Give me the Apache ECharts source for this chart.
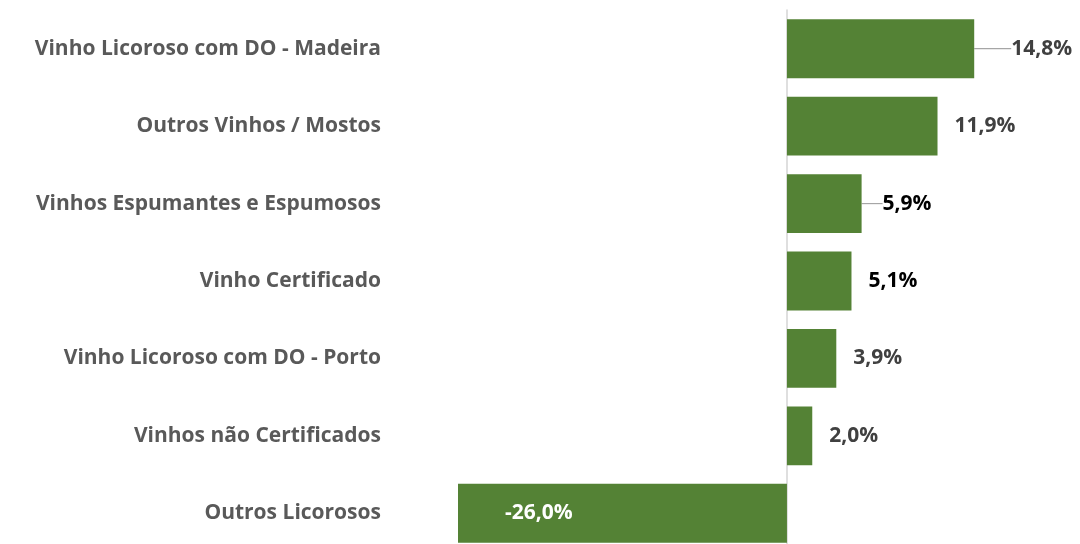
<!DOCTYPE html>
<html>
<head>
<meta charset="utf-8">
<script src="https://cdn.jsdelivr.net/npm/echarts@6/dist/echarts.min.js"></script>
<style>
  html, body { margin: 0; padding: 0; background: #fff; }
  #main { width: 1080px; height: 544px; }
</style>
</head>
<body>
<div id="main"></div>
<script>
// categorias, de baixo para cima (eixo de categorias do ECharts começa em baixo)
var categorias = [
    'Outros Licorosos',
    'Vinhos não Certificados',
    'Vinho Licoroso com DO - Porto',
    'Vinho Certificado',
    'Vinhos Espumantes e Espumosos',
    'Outros Vinhos / Mostos',
    'Vinho Licoroso com DO - Madeira'
];
var variacao = [-26.0, 2.0, 3.9, 5.1, 5.9, 11.9, 14.8];
// cor do rótulo (alguns a preto no original)
var corRotulo = ['#ffffff', '#404040', '#404040', '#000000', '#000000', '#404040', '#404040'];
// rótulos com linha de chamada: deslocamento e folga antes do texto
var chamadaDx = [0, 0, 0, 0, -1, 0, 10];
var chamadaFolga = [0, 0, 0, 0, 5, 0, 10];

var chart = echarts.init(document.getElementById('main'));

var dados = [];
for (var i = 0; i < variacao.length; i++) {
    var item = {
        value: variacao[i],
        label: { color: corRotulo[i] }
    };
    if (variacao[i] < 0) {
        item.label.position = 'insideLeft';
        item.label.distance = 47;
    }
    if (chamadaFolga[i] > 0) {
        item.label.padding = [0, 0, 0, chamadaFolga[i]];
        item.labelLine = { show: true };
    }
    dados.push(item);
}

var option = {
    animation: false,
    grid: {
        left: 458,
        right: 40,
        top: 10,
        bottom: -8,
        outerBoundsMode: 'none'
    },
    xAxis: {
        type: 'value',
        min: -26,
        max: 20,
        show: false
    },
    yAxis: {
        type: 'category',
        data: categorias,
        axisTick: { show: false },
        axisLine: {
            show: true,
            onZero: true,
            lineStyle: { color: '#d4d4d4', width: 1.5 }
        },
        axisLabel: {
            margin: 77,
            color: '#595959',
            fontFamily: 'Open Sans',
            fontWeight: 'bold',
            fontSize: 21
        }
    },
    series: [{
        type: 'bar',
        data: dados,
        barCategoryGap: '24%',
        itemStyle: { color: '#548235' },
        label: {
            show: true,
            position: 'right',
            distance: 17,
            fontFamily: 'Open Sans',
            fontWeight: 'bold',
            fontSize: 21,
            formatter: function (p) {
                return p.value.toFixed(1).replace('.', ',') + '%';
            }
        },
        labelLine: {
            lineStyle: { color: '#a6a6a6', width: 1.2 }
        },
        labelLayout: function (p) {
            return { dx: chamadaDx[p.dataIndex] };
        }
    }]
};
chart.setOption(option);
</script>
</body>
</html>
